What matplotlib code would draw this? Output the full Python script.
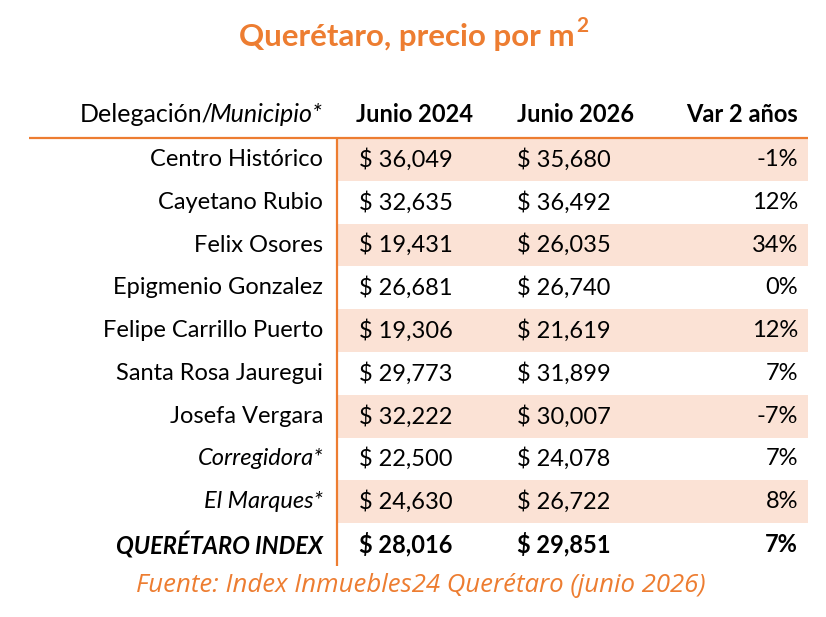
import matplotlib
matplotlib.use("Agg")
import matplotlib.pyplot as plt
from matplotlib.patches import Rectangle

# ---- data ----
title_text = "Querétaro, precio por m"
title_sup = "2"
headers = ["Junio 2024", "Junio 2026", "Var 2 años"]
header_label_regular = "Delegación/"
header_label_italic = "Municipio*"
places = ["Centro Histórico", "Cayetano Rubio", "Felix Osores", "Epigmenio Gonzalez",
          "Felipe Carrillo Puerto", "Santa Rosa Jauregui", "Josefa Vergara",
          "Corregidora*", "El Marques*", "QUERÉTARO INDEX"]
italic_rows = [7, 8, 9]
bold_rows = [9]
price_2024 = [36049, 32635, 19431, 26681, 19306, 29773, 32222, 22500, 24630, 28016]
price_2026 = [35680, 36492, 26035, 26740, 21619, 31899, 30007, 24078, 26722, 29851]
var_2y = [-1, 12, 34, 0, 12, 7, -7, 7, 8, 7]
source = "Fuente: Index Inmuebles24 Querétaro (junio 2026)"

ORANGE = "#ED7D31"
SHADE = "#FBE2D5"
FONT = "Lato"

W, H = 826, 617
fig = plt.figure(figsize=(W / 100, H / 100), dpi=100)
ax = fig.add_axes([0, 0, 1, 1])
ax.set_xlim(0, W)
ax.set_ylim(H, 0)
ax.axis("off")

table_top = 138
row_h = 42.8
left_line_x = 337
right_x = 808
label_right = 323
col1_x = 359
col2_x = 517
var_right = 798
fs = 17

n = len(places)
for i in range(n):
    y0 = table_top + i * row_h
    yc = y0 + row_h / 2
    if i % 2 == 0 and i < n - 1:
        ax.add_patch(Rectangle((left_line_x, y0), right_x - left_line_x, row_h,
                               facecolor=SHADE, edgecolor="none", zorder=0))
    weight = "bold" if i in bold_rows else "normal"
    style = "italic" if i in italic_rows else "normal"
    ax.text(label_right, yc, places[i], ha="right", va="center", fontsize=fs,
            family=FONT, fontweight=weight, fontstyle=style, color="black")
    ax.text(col1_x, yc, f"$ {price_2024[i]:,}", ha="left", va="center", fontsize=fs,
            family=FONT, fontweight=weight, color="black")
    ax.text(col2_x, yc, f"$ {price_2026[i]:,}", ha="left", va="center", fontsize=fs,
            family=FONT, fontweight=weight, color="black")
    ax.text(var_right, yc, f"{var_2y[i]}%", ha="right", va="center", fontsize=fs,
            family=FONT, fontweight=weight, color="black")

# lines
ax.plot([29, right_x], [table_top, table_top], color=ORANGE, lw=1.6, solid_capstyle="butt")
ax.plot([left_line_x, left_line_x], [table_top, table_top + n * row_h], color=ORANGE,
        lw=1.6, solid_capstyle="butt")

# header
hy = 114
fig.canvas.draw()
r = fig.canvas.get_renderer()
t_it = ax.text(label_right, hy, header_label_italic, ha="right", va="center", fontsize=18,
               family=FONT, fontstyle="italic", color="black")
bb = t_it.get_window_extent(renderer=r)
ax.text(bb.x0 + 3, hy, header_label_regular, ha="right", va="center", fontsize=18,
        family=FONT, color="black")
ax.text(col1_x - 3, hy, headers[0], ha="left", va="center", fontsize=fs, family=FONT,
        fontweight="bold")
ax.text(col2_x, hy, headers[1], ha="left", va="center", fontsize=fs, family=FONT,
        fontweight="bold")
ax.text(var_right, hy, headers[2], ha="right", va="center", fontsize=fs, family=FONT,
        fontweight="bold")

# title
tt = ax.text(407, 46, title_text, ha="center", va="baseline", fontsize=22.5, family=FONT,
             fontweight="bold", color=ORANGE)
tb = tt.get_window_extent(renderer=r)
ax.text(tb.x1 + 1, 32, title_sup, ha="left", va="baseline", fontsize=15, family=FONT,
        fontweight="bold", color=ORANGE)

# source
ax.text(421, 586, source, ha="center", va="center", fontsize=18.5, family="Open Sans",
        fontstyle="italic", color=ORANGE)

fig.savefig("out.png", dpi=100, facecolor="white")
